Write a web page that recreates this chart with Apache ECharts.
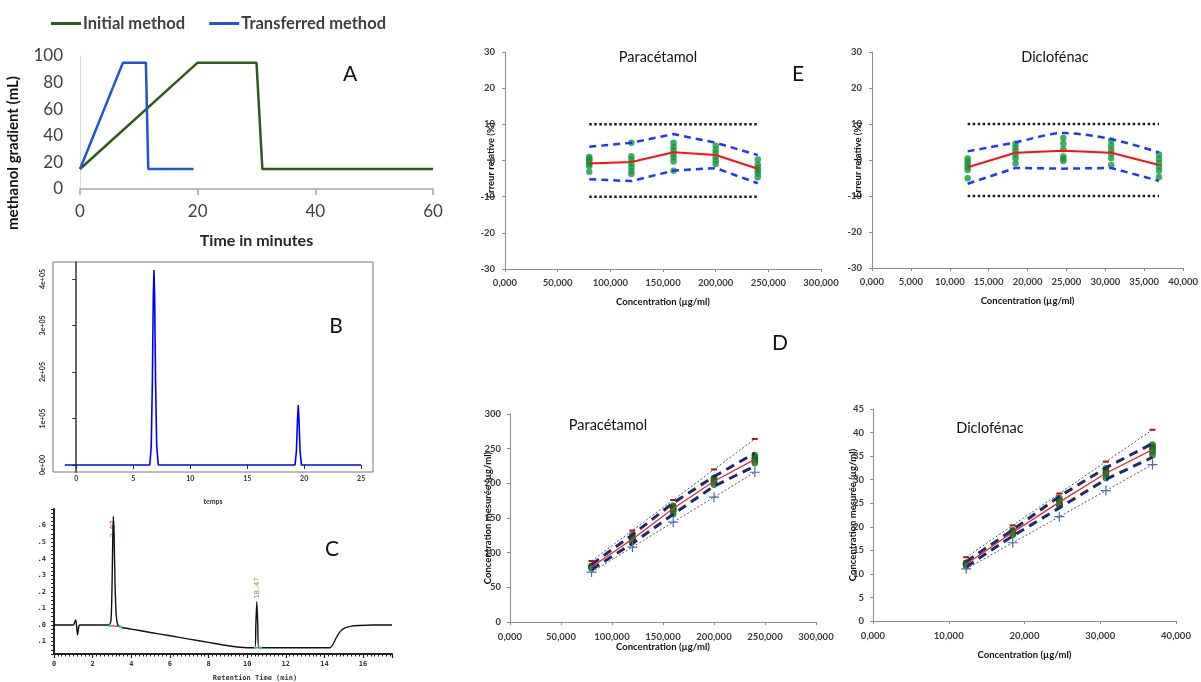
<!DOCTYPE html>
<html><head><meta charset="utf-8">
<script src="https://cdn.jsdelivr.net/npm/echarts@6/dist/echarts.min.js"></script>
<style>html,body{margin:0;padding:0;background:#fff}#c{width:1201px;height:682px}</style>
</head><body><div id="c"></div>
<script>
// ---------- Panel A : gradient ----------
const A_initT  = [0, 20, 30, 31, 60];
const A_initV  = [15, 95, 95, 15, 15];
const A_transT = [0, 7.3, 11.2, 11.6, 19.3];
const A_transV = [15, 95, 95, 15, 15];
// ---------- Panel B : chromatogram (R) ----------
const B_t = [-1, 6.45, 6.58, 6.68, 6.76, 6.82, 6.88, 6.96, 7.06, 7.2, 19.2, 19.32, 19.42, 19.48, 19.54, 19.64, 19.76, 25];
const B_v = [0, 0, 40000, 180000, 360000, 419000, 360000, 180000, 40000, 0, 0, 30000, 100000, 129000, 100000, 30000, 0, 0];
const B_xLabels = [0, 5, 10, 15, 20, 25];
const B_yLabels = [0, 100000, 200000, 300000, 400000];
// ---------- Panel C : chromatogram ----------
const C_t = [0, 1.0, 1.08, 1.13, 1.18, 1.22, 1.27, 1.32, 2.85, 2.95, 3.0, 3.04, 3.07, 3.11, 3.16, 3.22, 3.3, 3.4, 3.5, 4, 5, 6, 7, 8, 8.5, 9, 9.5, 10, 10.4, 10.45, 10.5, 10.55, 10.6, 14.3, 14.45, 14.6, 14.75, 14.9, 15.1, 15.4, 15.8, 16.5, 17.5];
const C_v = [0, 0, 0.02, 0.03, -0.02, -0.06, -0.02, 0, 0, 0.03, 0.2, 0.5, 0.655, 0.55, 0.25, 0.06, 0.0, -0.01, -0.015, -0.025, -0.045, -0.065, -0.085, -0.105, -0.115, -0.125, -0.133, -0.137, -0.137, 0.0, 0.14, 0.0, -0.137, -0.137, -0.115, -0.08, -0.05, -0.03, -0.016, -0.007, -0.003, 0, 0];
const C_base1T = [2.9, 3.45], C_base1V = [-0.004, -0.01];
const C_base2T = [10.42, 10.68], C_base2V = [-0.137, -0.137];
// ---------- Panel E : relative error profiles ----------
const E_paraX    = [80, 120, 160, 200, 240];
const E_paraMean = [-0.8, -0.4, 2.3, 1.5, -2.3];
const E_paraUp   = [3.8, 4.9, 7.3, 4.9, 1.5];
const E_paraLow  = [-5.2, -5.7, -2.8, -2.1, -6.3];
const E_paraPts  = [[1.0, 0.5, 0.0, -0.5, -1.0, -1.5, -3.1], [4.9, 1.2, 0.2, -0.8, -1.8, -2.8, -3.7], [4.9, 3.8, 2.8, 1.8, 0.8, -0.3, -2.8], [4.1, 3.0, 2.0, 1.0, 0.0, -1.0], [0.3, -1.2, -2.0, -2.8, -3.6, -4.6]];
const E_paraLimX = [80, 240];
const E_diclX    = [12.3, 18.45, 24.6, 30.75, 36.9];
const E_diclMean = [-2.0, 2.0, 2.6, 2.0, -1.4];
const E_diclUp   = [2.4, 4.9, 7.5, 5.8, 2.1];
const E_diclLow  = [-6.6, -2.2, -2.4, -2.2, -5.8];
const E_diclPts  = [[0.4, -0.4, -1.2, -2.0, -2.8, -5.1], [4.5, 3.5, 2.5, 1.5, 0.5, -1.0], [6.1, 4.5, 3.0, 1.0, 0.3, -0.3], [5.4, 4.0, 2.8, 1.8, 0.5, -1.4], [1.5, 0.3, -0.8, -1.9, -3.0, -4.7]];
const E_diclLimX = [12.3, 36.9];
const E_limUp = [10, 10], E_limLow = [-10, -10];
// ---------- Panel D : accuracy profiles ----------
const D_paraX      = [80, 120, 160, 200, 240];
const D_paraMean   = [79.4, 119.5, 163.7, 203.0, 234.5];
const D_paraUp     = [83.0, 125.9, 171.7, 209.8, 243.6];
const D_paraLow    = [75.8, 113.2, 155.5, 195.8, 224.9];
const D_paraLimUp  = [88, 132, 176, 220, 264];
const D_paraLimLow = [72, 108, 144, 180, 216];
const D_paraPts    = [[80.8, 80.4, 80.0, 79.6, 79.2, 78.8, 77.5], [125.9, 121.4, 120.2, 119.0, 117.8, 116.6, 115.6], [167.8, 166.1, 164.5, 162.9, 161.3, 159.5, 155.5], [208.2, 206.0, 204.0, 202.0, 200.0, 198.0], [240.7, 237.1, 235.2, 233.3, 231.4, 229.0]];
const D_diclX      = [12.3, 18.45, 24.6, 30.75, 36.9];
const D_diclMean   = [12.05, 18.82, 25.24, 31.37, 36.38];
const D_diclUp     = [12.6, 19.35, 26.45, 32.53, 37.67];
const D_diclLow    = [11.49, 18.04, 24.01, 30.07, 34.76];
const D_diclLimUp  = [13.53, 20.30, 27.06, 33.83, 40.59];
const D_diclLimLow = [11.07, 16.61, 22.14, 27.68, 33.21];
const D_diclPts    = [[12.35, 12.25, 12.15, 12.05, 11.96, 11.67], [19.28, 19.10, 18.91, 18.73, 18.54, 18.27], [26.10, 25.71, 25.34, 24.85, 24.67, 24.53], [32.41, 31.98, 31.61, 31.30, 30.90, 30.32], [37.45, 37.01, 36.60, 36.20, 35.79, 35.17]];

const pairs = (xs, ys) => xs.map((x, i) => [x, ys[i]]);
const cloud = (xs, pts) => pts.flatMap((arr, i) => arr.map(v => [xs[i], v]));
const comma3 = v => v.toFixed(3).replace('.', ',');

const chart = echarts.init(document.getElementById('c'));

const xlsAxisLine = {show: true, onZero: false, lineStyle: {color: '#8c8c8c', width: 1}};
const xlsTick = {show: true, length: 3, lineStyle: {color: '#8c8c8c'}};
const xlsLabel = {fontSize: 9.5, fontWeight: 'bold', color: '#3a3a3a'};
const nameStyle = {fontSize: 9.5, fontWeight: 'bold', color: '#111'};

function eAxes(g, xmax, xint) {
  return {
    x: {gridIndex: g, type: 'value', min: 0, max: xmax, interval: xint, axisLine: xlsAxisLine, axisTick: xlsTick,
        axisLabel: Object.assign({formatter: comma3, margin: 9}, xlsLabel), splitLine: {show: false},
        name: 'Concentration (µg/ml)', nameLocation: 'middle', nameGap: 28, nameMoveOverlap: false, nameTextStyle: nameStyle},
    y: {gridIndex: g, type: 'value', min: -30, max: 30, interval: 10, axisLine: xlsAxisLine, axisTick: xlsTick,
        axisLabel: Object.assign({margin: 10}, xlsLabel), splitLine: {show: false},
        name: 'Erreur relative (%)', nameLocation: 'middle', nameGap: 9, nameMoveOverlap: false, nameTextStyle: nameStyle}
  };
}
function dAxes(g, xmax, xint, ymax, yint, xgap, ygap) {
  return {
    x: {gridIndex: g, type: 'value', min: 0, max: xmax, interval: xint, axisLine: xlsAxisLine, axisTick: xlsTick,
        axisLabel: Object.assign({formatter: comma3, margin: 10}, xlsLabel), splitLine: {show: false},
        name: 'Concentration (µg/ml)', nameLocation: 'middle', nameGap: xgap, nameMoveOverlap: false, nameTextStyle: nameStyle},
    y: {gridIndex: g, type: 'value', min: 0, max: ymax, interval: yint, axisLine: xlsAxisLine, axisTick: xlsTick,
        axisLabel: Object.assign({margin: 9}, xlsLabel), splitLine: {show: false},
        name: 'Concentration mesurée (µg/ml)', nameLocation: 'middle', nameGap: ygap, nameMoveOverlap: false, nameTextStyle: nameStyle}
  };
}
const eP = eAxes(3, 300, 50), eD = eAxes(4, 40, 5);
const dP = dAxes(5, 300, 50, 300, 50, 20, 17), dD = dAxes(6, 40, 10, 45, 5, 29, 15);

const monoLabel = {fontSize: 7, fontFamily: 'DejaVu Sans Mono', color: '#333', fontWeight: 'bold'};

const option = {
  animation: false,
  textStyle: {fontFamily: 'Lato'},
  legend: {
    left: 46, top: 10, itemWidth: 30, itemHeight: 3, itemGap: 24, icon: 'rect',
    data: ['Initial method', 'Transferred method'],
    textStyle: {fontSize: 16.5, fontWeight: 'bold', color: '#404040', fontFamily: 'Lato', padding: [0, 0, 0, -3]}
  },
  grid: [
    {left: 80, top: 56, width: 353, height: 133},
    {left: 53, top: 262, width: 320, height: 210, show: true, borderColor: '#777', borderWidth: 1},
    {left: 54, top: 509, width: 338, height: 145},
    {left: 505, top: 52, width: 316, height: 217},
    {left: 872, top: 52, width: 314, height: 216},
    {left: 510, top: 414, width: 306, height: 208},
    {left: 873, top: 409, width: 303, height: 212}
  ],
  xAxis: [
    {gridIndex: 0, type: 'value', min: 0, max: 60, interval: 20,
     axisLine: {show: true, onZero: false, lineStyle: {color: '#a6a6a6', width: 1.5}},
     axisTick: {show: true, length: 6, lineStyle: {color: '#a6a6a6', width: 1.5}},
     axisLabel: {fontSize: 17, color: '#404040', margin: 14, fontFamily: 'Lato'}, splitLine: {show: false},
     name: 'Time in minutes', nameLocation: 'middle', nameGap: 44, nameMoveOverlap: false,
     nameTextStyle: {fontSize: 16, fontWeight: 'bold', color: '#262626', fontFamily: 'Lato'}},
    {gridIndex: 1, type: 'value', min: -2.04, max: 26.04,
     axisLine: {show: false},
     axisTick: {show: true, length: 4, customValues: B_xLabels, lineStyle: {color: '#333'}},
     axisLabel: {customValues: B_xLabels, margin: 3, fontSize: 7, color: '#333', fontWeight: 'bold'},
     splitLine: {show: false}},
    {gridIndex: 2, type: 'value', min: 0, max: 17.5, interval: 2,
     axisLine: {show: true, onZero: false, lineStyle: {color: '#222', width: 2}},
     axisTick: {show: true, length: 4, lineStyle: {color: '#222', width: 1.2}},
     minorTick: {show: true, splitNumber: 10, length: 2.5, lineStyle: {color: '#222', width: 1}},
     axisLabel: Object.assign({margin: 7, showMaxLabel: false}, monoLabel), splitLine: {show: false}},
    eP.x, eD.x, dP.x, dD.x
  ],
  yAxis: [
    {gridIndex: 0, type: 'value', min: 0, max: 100, interval: 20,
     axisLine: {show: true, lineStyle: {color: '#d9d9d9', width: 1}}, axisTick: {show: false},
     axisLabel: {fontSize: 17, color: '#404040', margin: 17, fontFamily: 'Lato'}, splitLine: {show: false}},
    {gridIndex: 1, type: 'value', min: -15000, max: 436500,
     axisLine: {show: true, lineStyle: {color: '#333', width: 1.5}},
     axisTick: {show: true, length: 4, customValues: B_yLabels, lineStyle: {color: '#333'}},
     axisLabel: {customValues: B_yLabels, rotate: 90, margin: 7, fontSize: 7, color: '#333', fontWeight: 'bold',
                 formatter: v => v === 0 ? '0e+00' : (v / 100000) + 'e+05'},
     splitLine: {show: false}},
    {gridIndex: 2, type: 'value', min: -0.175, max: 0.7, interval: 0.025,
     axisLine: {show: true, lineStyle: {color: '#222', width: 2}},
     axisTick: {show: true, length: 3, lineStyle: {color: '#222', width: 1}},
     axisLabel: Object.assign({margin: 8, formatter: v => {
        const k = Math.round(v * 40);
        if (k % 4 !== 0 || v > 0.65) return '';
        const d = Math.abs(Math.round(v * 10));
        return '.' + d;
     }}, monoLabel), splitLine: {show: false}},
    eP.y, eD.y, dP.y, dD.y
  ],
  series: [
    // A
    {name: 'Initial method', type: 'line', xAxisIndex: 0, yAxisIndex: 0, data: pairs(A_initT, A_initV),
     symbol: 'none', lineStyle: {color: '#2f5a1c', width: 2.5}, itemStyle: {color: '#2f5a1c'}},
    {name: 'Transferred method', type: 'line', xAxisIndex: 0, yAxisIndex: 0, data: pairs(A_transT, A_transV),
     symbol: 'none', lineStyle: {color: '#2253d6', width: 2.5}, itemStyle: {color: '#2253d6'}},
    // B
    {type: 'line', xAxisIndex: 1, yAxisIndex: 1, data: pairs(B_t, B_v), symbol: 'none',
     lineStyle: {color: '#0000ff', width: 1.6}},
    // C
    {type: 'line', xAxisIndex: 2, yAxisIndex: 2, data: pairs(C_t, C_v), symbol: 'none', smooth: 0.2,
     lineStyle: {color: '#111', width: 1.4}},
    {type: 'line', xAxisIndex: 2, yAxisIndex: 2, data: pairs(C_base1T, C_base1V), symbol: 'circle', symbolSize: 3,
     itemStyle: {color: '#33cccc'}, lineStyle: {color: '#e03030', width: 1.2}},
    {type: 'line', xAxisIndex: 2, yAxisIndex: 2, data: pairs(C_base2T, C_base2V), symbol: 'circle', symbolSize: 3,
     itemStyle: {color: '#33cccc'}, lineStyle: {color: '#e03030', width: 1.2}},
    // E paracetamol
    {type: 'line', xAxisIndex: 3, yAxisIndex: 3, data: pairs(E_paraLimX, E_limUp), symbol: 'none',
     lineStyle: {color: '#1a1a1a', width: 2.5, type: [2.5, 2.5]}},
    {type: 'line', xAxisIndex: 3, yAxisIndex: 3, data: pairs(E_paraLimX, E_limLow), symbol: 'none',
     lineStyle: {color: '#1a1a1a', width: 2.5, type: [2.5, 2.5]}},
    {type: 'line', xAxisIndex: 3, yAxisIndex: 3, data: pairs(E_paraX, E_paraUp), symbol: 'none',
     lineStyle: {color: '#1f36ff', width: 2.5, type: [7, 5]}},
    {type: 'line', xAxisIndex: 3, yAxisIndex: 3, data: pairs(E_paraX, E_paraLow), symbol: 'none',
     lineStyle: {color: '#1f36ff', width: 2.5, type: [7, 5]}},
    {type: 'line', xAxisIndex: 3, yAxisIndex: 3, data: pairs(E_paraX, E_paraMean), symbol: 'none',
     lineStyle: {color: '#ff1010', width: 2}},
    {type: 'scatter', xAxisIndex: 3, yAxisIndex: 3, data: cloud(E_paraX, E_paraPts), symbolSize: 6.5,
     itemStyle: {color: '#129a3a'}},
    // E diclofenac
    {type: 'line', xAxisIndex: 4, yAxisIndex: 4, data: pairs(E_diclLimX, E_limUp), symbol: 'none',
     lineStyle: {color: '#1a1a1a', width: 2.5, type: [2.5, 2.5]}},
    {type: 'line', xAxisIndex: 4, yAxisIndex: 4, data: pairs(E_diclLimX, E_limLow), symbol: 'none',
     lineStyle: {color: '#1a1a1a', width: 2.5, type: [2.5, 2.5]}},
    {type: 'line', xAxisIndex: 4, yAxisIndex: 4, data: pairs(E_diclX, E_diclUp), symbol: 'none', smooth: 0.3,
     lineStyle: {color: '#1f36ff', width: 2.5, type: [7, 5]}},
    {type: 'line', xAxisIndex: 4, yAxisIndex: 4, data: pairs(E_diclX, E_diclLow), symbol: 'none',
     lineStyle: {color: '#1f36ff', width: 2.5, type: [7, 5]}},
    {type: 'line', xAxisIndex: 4, yAxisIndex: 4, data: pairs(E_diclX, E_diclMean), symbol: 'none',
     lineStyle: {color: '#ff1010', width: 2}},
    {type: 'scatter', xAxisIndex: 4, yAxisIndex: 4, data: cloud(E_diclX, E_diclPts), symbolSize: 6.5,
     itemStyle: {color: '#129a3a'}},
    // D paracetamol
    {type: 'line', xAxisIndex: 5, yAxisIndex: 5, data: pairs(D_paraX, D_paraLimUp), symbol: 'rect', symbolSize: [6, 2],
     itemStyle: {color: '#b01010'}, lineStyle: {color: '#555', width: 1, type: [2, 2]}},
    {type: 'line', xAxisIndex: 5, yAxisIndex: 5, data: pairs(D_paraX, D_paraLimLow),
     symbol: 'path://M4.4,0H5.6V4.4H10V5.6H5.6V10H4.4V5.6H0V4.4H4.4Z', symbolSize: 10,
     itemStyle: {color: '#4a6aa8'}, lineStyle: {color: '#555', width: 1, type: [2, 2]}},
    {type: 'line', xAxisIndex: 5, yAxisIndex: 5, data: pairs(D_paraX, D_paraUp), symbol: 'none',
     lineStyle: {color: '#1c2a6b', width: 3, type: [9, 6]}},
    {type: 'line', xAxisIndex: 5, yAxisIndex: 5, data: pairs(D_paraX, D_paraLow), symbol: 'none',
     lineStyle: {color: '#1c2a6b', width: 3, type: [9, 6]}},
    {type: 'line', xAxisIndex: 5, yAxisIndex: 5, data: pairs(D_paraX, D_paraMean), symbol: 'none',
     lineStyle: {color: '#e03030', width: 1.3}},
    {type: 'scatter', xAxisIndex: 5, yAxisIndex: 5, data: cloud(D_paraX, D_paraPts), symbolSize: 6,
     itemStyle: {color: '#1a8a2a', borderColor: '#0b3d0b', borderWidth: 0.6}},
    // D diclofenac
    {type: 'line', xAxisIndex: 6, yAxisIndex: 6, data: pairs(D_diclX, D_diclLimUp), symbol: 'rect', symbolSize: [6, 2],
     itemStyle: {color: '#b01010'}, lineStyle: {color: '#555', width: 1, type: [2, 2]}},
    {type: 'line', xAxisIndex: 6, yAxisIndex: 6, data: pairs(D_diclX, D_diclLimLow),
     symbol: 'path://M4.4,0H5.6V4.4H10V5.6H5.6V10H4.4V5.6H0V4.4H4.4Z', symbolSize: 10,
     itemStyle: {color: '#4a6aa8'}, lineStyle: {color: '#555', width: 1, type: [2, 2]}},
    {type: 'line', xAxisIndex: 6, yAxisIndex: 6, data: pairs(D_diclX, D_diclUp), symbol: 'none',
     lineStyle: {color: '#1c2a6b', width: 3, type: [9, 6]}},
    {type: 'line', xAxisIndex: 6, yAxisIndex: 6, data: pairs(D_diclX, D_diclLow), symbol: 'none',
     lineStyle: {color: '#1c2a6b', width: 3, type: [9, 6]}},
    {type: 'line', xAxisIndex: 6, yAxisIndex: 6, data: pairs(D_diclX, D_diclMean), symbol: 'none',
     lineStyle: {color: '#e03030', width: 1.3}},
    {type: 'scatter', xAxisIndex: 6, yAxisIndex: 6, data: cloud(D_diclX, D_diclPts), symbolSize: 6,
     itemStyle: {color: '#1a8a2a', borderColor: '#0b3d0b', borderWidth: 0.6}}
  ],
  graphic: [
    {type: 'text', x: 13, y: 153, rotation: Math.PI / 2,
     style: {text: 'methanol gradient (mL)', font: 'bold 15px Lato', fill: '#111', align: 'center', verticalAlign: 'middle'}},
    {type: 'text', x: 350, y: 74, style: {text: 'A', font: '21px Lato', fill: '#111', align: 'center', verticalAlign: 'middle'}},
    {type: 'text', x: 336, y: 326, style: {text: 'B', font: '21px Lato', fill: '#111', align: 'center', verticalAlign: 'middle'}},
    {type: 'text', x: 332, y: 549, style: {text: 'C', font: '21px Lato', fill: '#111', align: 'center', verticalAlign: 'middle'}},
    {type: 'text', x: 798, y: 74, style: {text: 'E', font: '21px Lato', fill: '#111', align: 'center', verticalAlign: 'middle'}},
    {type: 'text', x: 780, y: 343, style: {text: 'D', font: '21px Lato', fill: '#111', align: 'center', verticalAlign: 'middle'}},
    {type: 'text', x: 213, y: 502, style: {text: 'temps', font: 'bold 7px Lato', fill: '#333', align: 'center', verticalAlign: 'middle'}},
    {type: 'text', x: 255, y: 678, style: {text: 'Retention Time (min)', font: 'bold 7px "DejaVu Sans Mono"', fill: '#333', align: 'center', verticalAlign: 'middle'}},
    {type: 'text', x: 113, y: 529, rotation: Math.PI / 2, style: {text: '3.07', font: '7px "DejaVu Sans Mono"', fill: '#e03030', align: 'center', verticalAlign: 'middle'}},
    {type: 'text', x: 257, y: 588, rotation: Math.PI / 2, style: {text: '10.47', font: '7px "DejaVu Sans Mono"', fill: '#58a838', align: 'center', verticalAlign: 'middle'}},
    {type: 'text', x: 658, y: 57, style: {text: 'Paracétamol', font: '14.5px Lato', fill: '#111', align: 'center', verticalAlign: 'middle'}},
    {type: 'text', x: 1055, y: 57, style: {text: 'Diclofénac', font: '14.5px Lato', fill: '#111', align: 'center', verticalAlign: 'middle'}},
    {type: 'text', x: 608, y: 425, style: {text: 'Paracétamol', font: '14.5px Lato', fill: '#111', align: 'center', verticalAlign: 'middle'}},
    {type: 'text', x: 990, y: 428, style: {text: 'Diclofénac', font: '14.5px Lato', fill: '#111', align: 'center', verticalAlign: 'middle'}}
  ]
};
chart.setOption(option);
</script>
</body></html>
